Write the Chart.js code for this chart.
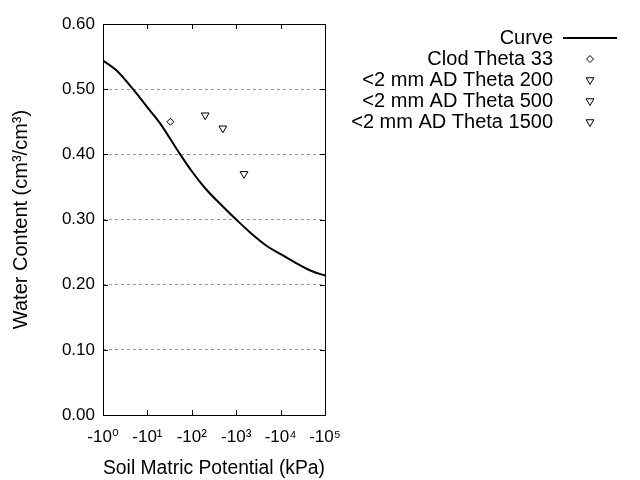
<!DOCTYPE html>
<html>
<head>
<meta charset="utf-8">
<script src="https://cdn.jsdelivr.net/npm/chart.js@4.4.1/dist/chart.umd.min.js"></script>
<style>
  html, body { margin: 0; padding: 0; background: #fff; }
</style>
</head>
<body>
<canvas id="chart" width="640" height="480"></canvas>
<script>
// 曲线数据 (kPa 取绝对值, 对数坐标)
const curvePotential = [1, 2, 5, 10, 20, 50, 100, 200, 500, 1000, 2000, 5000, 10000, 20000, 50000, 100000];
const curveTheta = [0.544, 0.529, 0.498, 0.472, 0.446, 0.404, 0.374, 0.348, 0.320, 0.300, 0.281, 0.259, 0.247, 0.235, 0.221, 0.214];

// 实测点
const pointLabels = ['Clod Theta 33', '<2 mm AD Theta 200', '<2 mm AD Theta 500', '<2 mm AD Theta 1500'];
const pointPotential = [33, 200, 500, 1500];
const pointTheta = [0.45, 0.46, 0.44, 0.37];
const pointStyles = ['rectRot', 'triangle', 'triangle', 'triangle'];

// 坐标轴刻度
const xTickValues = [1, 10, 100, 1000, 10000, 100000];
const xTickLabels = ['-10⁰', '-10¹', '-10²', '-10³', '-10⁴', '-10⁵'];
const yTickValues = [0, 0.1, 0.2, 0.3, 0.4, 0.5, 0.6];

const FONT = '"Liberation Sans", Arial, "DejaVu Sans", sans-serif';

function markerOpts(style) {
    return {
        pointStyle: style,
        radius: style === 'rectRot' ? 3.5 : 4.5,
        rotation: style === 'triangle' ? 180 : 0,
        borderWidth: 1
    };
}

// 边框和内向刻度
const framePlugin = {
    id: 'frame',
    afterDatasetsDraw(chart) {
        const ctx = chart.ctx;
        const a = chart.chartArea;
        const xs = chart.scales.x, ys = chart.scales.y;
        ctx.save();
        ctx.strokeStyle = '#000';
        ctx.lineWidth = 1;
        ctx.strokeRect(Math.round(a.left) + 0.5, Math.round(a.top) + 0.5,
            Math.round(a.right - a.left), Math.round(a.bottom - a.top));
        const len = 5;
        ctx.beginPath();
        xTickValues.slice(1, -1).forEach(v => {
            const px = Math.round(xs.getPixelForValue(v)) + 0.5;
            ctx.moveTo(px, a.bottom); ctx.lineTo(px, a.bottom - len);
            ctx.moveTo(px, a.top); ctx.lineTo(px, a.top + len);
        });
        yTickValues.slice(1, -1).forEach(v => {
            const py = Math.round(ys.getPixelForValue(v)) + 0.5;
            ctx.moveTo(a.left, py); ctx.lineTo(a.left + len, py);
            ctx.moveTo(a.right, py); ctx.lineTo(a.right - len, py);
        });
        ctx.stroke();
        ctx.restore();
    }
};

// 右侧图例: 文字右对齐, 标记在右
const legendPlugin = {
    id: 'sideLegend',
    afterDraw(chart) {
        const ctx = chart.ctx;
        const textRight = 553, markX = 590, top = 38, step = 21;
        ctx.save();
        ctx.font = '20px ' + FONT;
        ctx.textAlign = 'right';
        ctx.textBaseline = 'middle';
        chart.data.datasets.forEach((ds, i) => {
            const y = top + i * step;
            ctx.fillStyle = '#000';
            ctx.fillText(ds.label, textRight, y);
            if (i === 0) {
                ctx.strokeStyle = '#000';
                ctx.lineWidth = 2;
                ctx.beginPath();
                ctx.moveTo(563, y);
                ctx.lineTo(617, y);
                ctx.stroke();
            } else {
                ctx.fillStyle = '#fff';
                ctx.strokeStyle = '#000';
                ctx.lineWidth = 1;
                Chart.helpers.drawPoint(ctx, markerOpts(ds.pointStyle), markX, y);
            }
        });
        ctx.restore();
    }
};

const datasets = [{
    label: 'Curve',
    data: curvePotential.map((p, i) => ({ x: p, y: curveTheta[i] })),
    showLine: true,
    borderColor: '#000',
    borderWidth: 2,
    pointRadius: 0,
    cubicInterpolationMode: 'monotone'
}];
pointLabels.forEach((label, i) => {
    const m = markerOpts(pointStyles[i]);
    datasets.push({
        label: label,
        data: [{ x: pointPotential[i], y: pointTheta[i] }],
        showLine: false,
        pointStyle: m.pointStyle,
        pointRadius: m.radius,
        pointRotation: m.rotation,
        pointBorderWidth: 1,
        pointBackgroundColor: '#fff',
        pointBorderColor: '#000'
    });
});

new Chart(document.getElementById('chart'), {
    type: 'scatter',
    data: { datasets: datasets },
    options: {
        responsive: false,
        animation: false,
        layout: { padding: { left: 0, top: 24, right: 315, bottom: 0 } },
        plugins: {
            legend: { display: false },
            tooltip: { enabled: false }
        },
        scales: {
            x: {
                type: 'logarithmic',
                min: 1,
                max: 100000,
                afterBuildTicks: s => { s.ticks = xTickValues.map(v => ({ value: v })); },
                afterFit: s => { s.height = 65; },
                ticks: {
                    color: '#000',
                    font: { family: FONT, size: 17 },
                    padding: 12,
                    maxRotation: 0,
                    autoSkip: false,
                    callback: v => xTickLabels[xTickValues.indexOf(v)]
                },
                grid: { display: false, drawTicks: false },
                border: { display: false },
                title: {
                    display: true,
                    text: 'Soil Matric Potential (kPa)',
                    color: '#000',
                    font: { family: FONT, size: 20 },
                    padding: { top: 0, bottom: 0 }
                }
            },
            y: {
                min: 0,
                max: 0.6,
                afterBuildTicks: s => { s.ticks = yTickValues.map(v => ({ value: v })); },
                afterFit: s => { s.width = 103; },
                ticks: {
                    color: '#000',
                    font: { family: FONT, size: 17 },
                    padding: 8,
                    callback: v => v.toFixed(2)
                },
                grid: {
                    drawTicks: false,
                    lineWidth: 1,
                    color: c => (c.tick && (c.tick.value === 0 || Math.abs(c.tick.value - 0.6) < 1e-9)) ? 'rgba(0,0,0,0)' : '#9a9a9a'
                },
                border: { display: false, dash: [3, 3] },
                title: {
                    display: true,
                    text: 'Water Content (cm³/cm³)',
                    color: '#000',
                    font: { family: FONT, size: 20 },
                    padding: { top: 9, bottom: 0 }
                }
            }
        }
    },
    plugins: [framePlugin, legendPlugin]
});
</script>
</body>
</html>
